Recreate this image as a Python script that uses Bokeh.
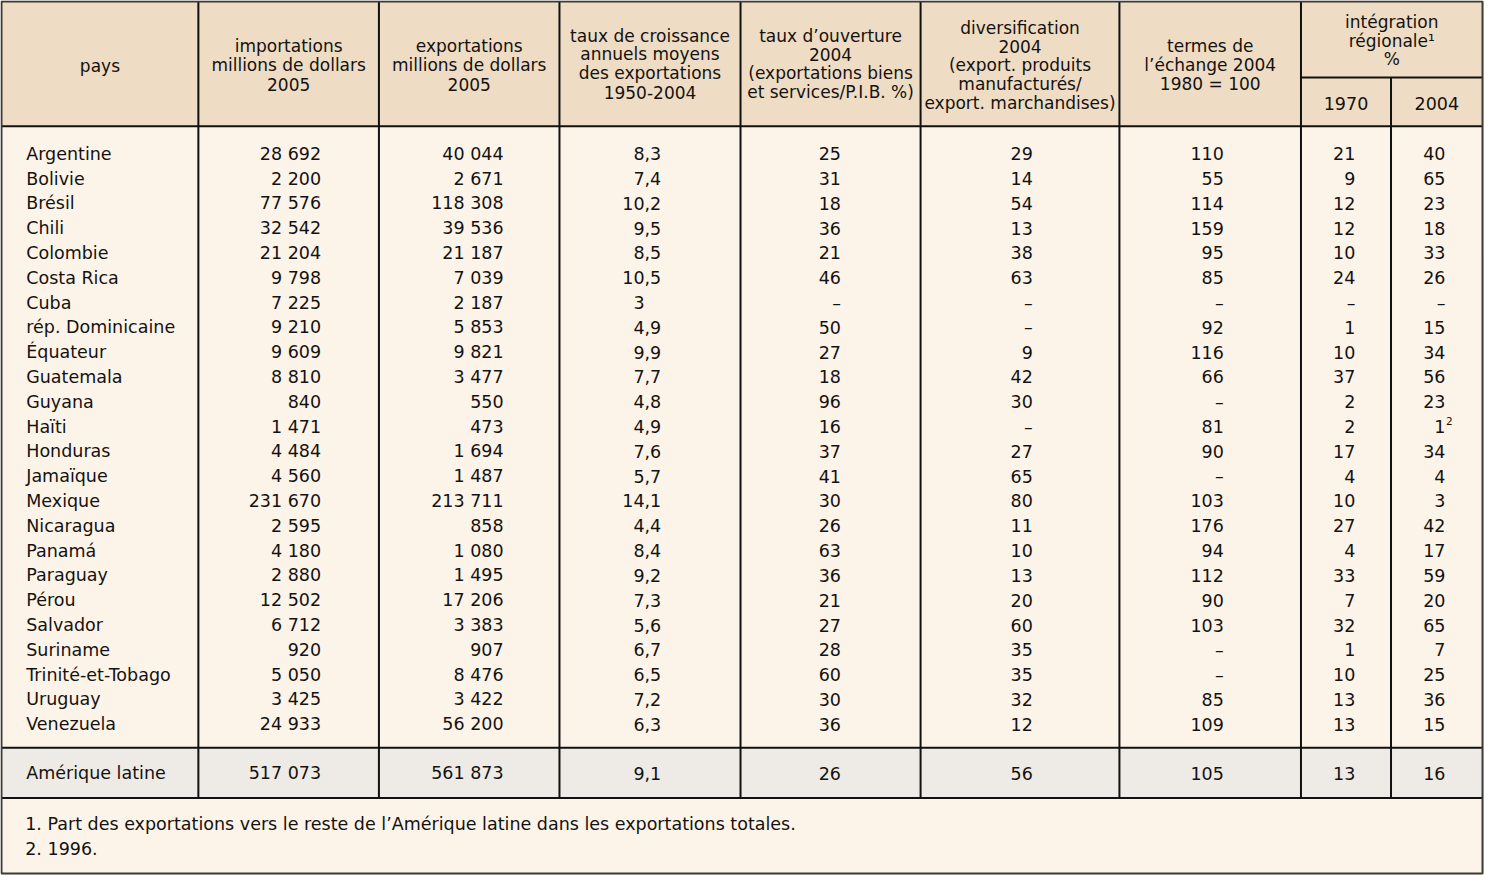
from bokeh.plotting import figure
from bokeh.models import Range1d, ColumnDataSource
from bokeh.embed import file_html
from bokeh.resources import INLINE
from bokeh.core.properties import value

# ---------------- data ----------------
countries = ["Argentine", "Bolivie", "Brésil", "Chili", "Colombie", "Costa Rica", "Cuba",
             "rép. Dominicaine", "Équateur", "Guatemala", "Guyana", "Haïti", "Honduras",
             "Jamaïque", "Mexique", "Nicaragua", "Panamá", "Paraguay", "Pérou", "Salvador",
             "Suriname", "Trinité-et-Tobago", "Uruguay", "Venezuela"]
imports_2005 = [28692, 2200, 77576, 32542, 21204, 9798, 7225, 9210, 9609, 8810, 840, 1471,
                4484, 4560, 231670, 2595, 4180, 2880, 12502, 6712, 920, 5050, 3425, 24933]
exports_2005 = [40044, 2671, 118308, 39536, 21187, 7039, 2187, 5853, 9821, 3477, 550, 473,
                1694, 1487, 213711, 858, 1080, 1495, 17206, 3383, 907, 8476, 3422, 56200]
growth_1950_2004 = [8.3, 7.4, 10.2, 9.5, 8.5, 10.5, 3, 4.9, 9.9, 7.7, 4.8, 4.9, 7.6, 5.7,
                    14.1, 4.4, 8.4, 9.2, 7.3, 5.6, 6.7, 6.5, 7.2, 6.3]
openness_2004 = [25, 31, 18, 36, 21, 46, None, 50, 27, 18, 96, 16, 37, 41, 30, 26, 63, 36,
                 21, 27, 28, 60, 30, 36]
diversification_2004 = [29, 14, 54, 13, 38, 63, None, None, 9, 42, 30, None, 27, 65, 80, 11,
                        10, 13, 20, 60, 35, 35, 32, 12]
terms_of_trade_2004 = [110, 55, 114, 159, 95, 85, None, 92, 116, 66, None, 81, 90, None, 103,
                       176, 94, 112, 90, 103, None, None, 85, 109]
integration_1970 = [21, 9, 12, 12, 10, 24, None, 1, 10, 37, 2, 2, 17, 4, 10, 27, 4, 33, 7, 32,
                    1, 10, 13, 13]
integration_2004 = [40, 65, 23, 18, 33, 26, None, 15, 34, 56, 23, 1, 34, 4, 3, 42, 17, 59, 20,
                    65, 7, 25, 36, 15]
integration_2004_notes = ["", "", "", "", "", "", "", "", "", "", "", "2", "", "", "", "", "",
                          "", "", "", "", "", "", ""]

total_label = "Amérique latine"
total_values = [517073, 561873, 9.1, 26, 56, 105, 13, 16]

header_labels = [
    ["pays"],
    ["importations", "millions de dollars", "2005"],
    ["exportations", "millions de dollars", "2005"],
    ["taux de croissance", "annuels moyens", "des exportations", "1950-2004"],
    ["taux d’ouverture", "2004", "(exportations biens", "et services/P.I.B. %)"],
    ["diversification", "2004", "(export. produits", "manufacturés/", "export. marchandises)"],
    ["termes de", "l’échange 2004", "1980 = 100"],
]
group_label = ["intégration", "régionale¹", "%"]
sub_labels = ["1970", "2004"]
footnotes = ["1. Part des exportations vers le reste de l’Amérique latine dans les exportations totales.",
             "2. 1996."]

# ---------------- helpers ----------------
def fmt_int(v):
    if v is None:
        return "–"
    return f"{v:,}".replace(",", " ")

def fmt_growth(v):
    if v is None:
        return "–"
    if isinstance(v, int):
        return str(v)
    return f"{v:.1f}".replace(".", ",")

# ---------------- layout ----------------
W, H = 1484, 875
p = figure(width=W, height=H, output_backend="svg", toolbar_location=None,
           x_range=Range1d(0, 1500), y_range=Range1d(891, 0), min_border=0)
p.axis.visible = False
p.grid.visible = False
p.outline_line_color = None
p.background_fill_color = "#fdf4e8"
p.border_fill_color = "white"

FONT = value("DejaVu Sans")
FS = "17.5px"
HFS = "17px"
INK = "#141210"
HEAD_BG = "#efdcc4"
BODY_BG = "#fdf4e9"
TOTAL_BG = "#eeebe6"

col_edges = [1, 200, 382.5, 565, 748, 930, 1131, 1314.5, 1405.5, 1498]
y_top, y_head, y_sub, y_total_top, y_total_bot, y_bot = 1, 128, 78.5, 761, 812, 889

# backgrounds
p.quad(left=[col_edges[0]], right=[col_edges[-1]], top=[y_top], bottom=[y_head],
       fill_color=HEAD_BG, line_color=None)
p.quad(left=[col_edges[0]], right=[col_edges[-1]], top=[y_head], bottom=[y_total_top],
       fill_color=BODY_BG, line_color=None)
p.quad(left=[col_edges[0]], right=[col_edges[-1]], top=[y_total_top], bottom=[y_total_bot],
       fill_color=TOTAL_BG, line_color=None)
p.quad(left=[col_edges[0]], right=[col_edges[-1]], top=[y_total_bot], bottom=[y_bot],
       fill_color=BODY_BG, line_color=None)

# grid lines
x0s, y0s, x1s, y1s = [], [], [], []
for k, xe in enumerate(col_edges[1:-1], start=1):
    start = y_sub if k == 8 else y_top
    x0s.append(xe); x1s.append(xe); y0s.append(start); y1s.append(y_total_bot)
for yy in [y_head, y_total_top, y_total_bot]:
    x0s.append(col_edges[0]); x1s.append(col_edges[-1]); y0s.append(yy); y1s.append(yy)
x0s.append(col_edges[7]); x1s.append(col_edges[-1]); y0s.append(y_sub); y1s.append(y_sub)
p.segment(x0=x0s, y0=y0s, x1=x1s, y1=y1s, line_color="#111111", line_width=2)
# outer frame
p.quad(left=[col_edges[0]], right=[col_edges[-1]], top=[y_top], bottom=[y_bot],
       fill_color=None, line_color="#3a3a3a", line_width=2)

def draw_text(xs, ys, texts, align="center", size=FS, baseline="middle"):
    src = ColumnDataSource(dict(x=xs, y=ys, t=texts))
    p.text(x="x", y="y", text="t", source=src, text_font=FONT, text_font_size=size,
           text_color=INK, text_align=align, text_baseline=baseline)

# headers
centers = [(col_edges[i] + col_edges[i + 1]) / 2 for i in range(len(col_edges) - 1)]
LH = 19.2
head_mid = [67, 66, 66, 64.5, 64.5, 66, 66]
for i, lines in enumerate(header_labels):
    n = len(lines)
    ys = [head_mid[i] + (k - (n - 1) / 2) * LH for k in range(n)]
    draw_text([centers[i]] * n, ys, lines, size=HFS)
gx = (col_edges[7] + col_edges[9]) / 2
draw_text([gx] * 3, [22, 41, 60], group_label, size=HFS)
draw_text([centers[7], centers[8]], [105, 105], sub_labels)

# body rows
row_y0, row_dy = 156, 25.26
ys = [row_y0 + i * row_dy for i in range(len(countries))]
draw_text([26] * len(countries), ys, countries, align="left")

right_edges = {"imp": 324, "exp": 508.5, "open": 849.5, "div": 1043.5, "terms": 1236.5,
               "i70": 1369.5, "i04": 1460.5}
draw_text([right_edges["imp"]] * len(ys), ys, [fmt_int(v) for v in imports_2005], align="right")
draw_text([right_edges["exp"]] * len(ys), ys, [fmt_int(v) for v in exports_2005], align="right")

# growth: decimal aligned
split_x = 651
int_parts, frac_parts = [], []
for v in growth_1950_2004:
    s = fmt_growth(v)
    if "," in s:
        a, b = s.split(",")
        int_parts.append(a); frac_parts.append("," + b)
    else:
        int_parts.append(s); frac_parts.append("")
draw_text([split_x] * len(ys), ys, int_parts, align="right")
draw_text([split_x] * len(ys), ys, frac_parts, align="left")

draw_text([right_edges["open"]] * len(ys), ys, [fmt_int(v) for v in openness_2004], align="right")
draw_text([right_edges["div"]] * len(ys), ys, [fmt_int(v) for v in diversification_2004], align="right")
draw_text([right_edges["terms"]] * len(ys), ys, [fmt_int(v) for v in terms_of_trade_2004], align="right")
draw_text([right_edges["i70"]] * len(ys), ys, [fmt_int(v) for v in integration_1970], align="right")
draw_text([right_edges["i04"]] * len(ys), ys, [fmt_int(v) for v in integration_2004], align="right")
note_y = [y - 6 for y, n in zip(ys, integration_2004_notes) if n]
note_t = [n for n in integration_2004_notes if n]
draw_text([right_edges["i04"] + 0.5] * len(note_t), note_y, note_t, align="left", size="10.5px")

# total row
ty = 787
draw_text([26], [ty], [total_label], align="left")
tv = total_values
draw_text([right_edges["imp"], right_edges["exp"]], [ty, ty], [fmt_int(tv[0]), fmt_int(tv[1])], align="right")
g = fmt_growth(tv[2]).split(",")
draw_text([split_x], [ty], [g[0]], align="right")
draw_text([split_x], [ty], ["," + g[1]], align="left")
draw_text([right_edges["open"], right_edges["div"], right_edges["terms"], right_edges["i70"], right_edges["i04"]],
          [ty] * 5, [fmt_int(v) for v in tv[3:]], align="right")

# footnotes
draw_text([25, 25], [839, 864], footnotes, align="left")

open("out.html", "w").write(file_html(p, INLINE))
